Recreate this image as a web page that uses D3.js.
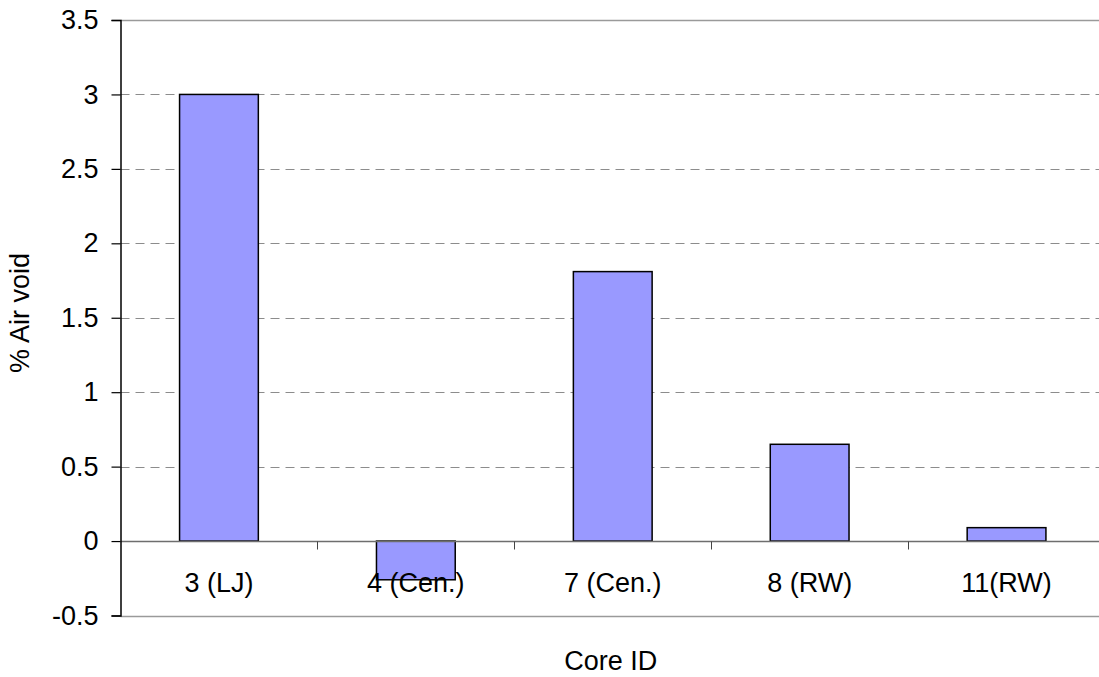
<!DOCTYPE html>
<html><head><meta charset="utf-8">
<script src="https://cdn.jsdelivr.net/npm/d3@7"></script>
<style>body{margin:0;background:#fff}svg{display:block}text{font-family:"Liberation Sans",Arial,sans-serif;fill:#000}</style>
</head><body><svg id="c" width="1099" height="677"></svg>
<script>
const categories = ["3 (LJ)", "4 (Cen.)", "7 (Cen.)", "8 (RW)", "11(RW)"];
const values = [3.0, -0.26, 1.81, 0.65, 0.09];
const yTicks = [-0.5, 0, 0.5, 1, 1.5, 2, 2.5, 3, 3.5];
const xTitle = "Core ID";
const yTitle = "% Air void";

const svg = d3.select("#c");
const L = 120.5, R = 1105, T = 20, B = 615.5;
const x = d3.scaleBand().domain(categories).range([L, R]).paddingInner(0.6).paddingOuter(0.3);
const xb = d3.scaleBand().domain(categories).range([L, R]);
const y = d3.scaleLinear().domain([-0.5, 3.5]).range([B, T]);
const fs = 27;

// gridlines
svg.append("g").selectAll("line").data(yTicks.filter(t => t !== 0 && t !== -0.5 && t !== 3.5)).join("line")
  .attr("x1", L).attr("x2", R).attr("y1", d => Math.round(y(d)) + 0.5).attr("y2", d => Math.round(y(d)) + 0.5)
  .attr("stroke", "#8c8c8c").attr("stroke-width", 1).attr("stroke-dasharray", "9,6");
// top and bottom border
[3.5, -0.5].forEach(t => svg.append("line").attr("x1", L).attr("x2", R)
  .attr("y1", Math.round(y(t)) + 0.5).attr("y2", Math.round(y(t)) + 0.5)
  .attr("stroke", "#9a9a9a").attr("stroke-width", 1.5));

// bars
svg.append("g").selectAll("rect").data(categories).join("rect")
  .attr("x", d => x(d)).attr("width", x.bandwidth())
  .attr("y", (d, i) => y(Math.max(0, values[i])))
  .attr("height", (d, i) => Math.abs(y(values[i]) - y(0)))
  .attr("fill", "#9999ff").attr("stroke", "#000").attr("stroke-width", 1.5);

// zero axis
const y0 = Math.round(y(0)) + 0.5;
svg.append("line").attr("x1", L).attr("x2", R).attr("y1", y0).attr("y2", y0)
  .attr("stroke", "#6e6e6e").attr("stroke-width", 1.5);
svg.append("g").selectAll("line").data(categories.slice(1)).join("line")
  .attr("x1", d => Math.round(xb(d)) + 0.5).attr("x2", d => Math.round(xb(d)) + 0.5)
  .attr("y1", y0).attr("y2", y0 + 8).attr("stroke", "#444").attr("stroke-width", 1);

// y axis
const yAxis = d3.axisLeft(y).tickValues(yTicks).tickSize(9).tickPadding(13).tickFormat(d => String(d));
const gy = svg.append("g").attr("transform", `translate(${L},0)`).call(yAxis);
gy.select(".domain").attr("stroke", "#000").attr("stroke-width", 1.5);
gy.selectAll(".tick line").attr("stroke", "#000").attr("stroke-width", 1.2);
gy.selectAll("text").attr("font-size", fs).attr("font-family", "Liberation Sans, Arial, sans-serif").attr("fill", "#000");

// category labels
svg.append("g").selectAll("text").data(categories).join("text")
  .attr("x", d => xb(d) + xb.bandwidth() / 2).attr("y", 592)
  .attr("text-anchor", "middle").attr("font-size", fs).text(d => d);

// titles
svg.append("text").attr("x", (L + R) / 2 - 2).attr("y", 670).attr("text-anchor", "middle")
  .attr("font-size", fs).text(xTitle);
svg.append("text").attr("transform", `translate(29,313) rotate(-90)`)
  .attr("text-anchor", "middle").attr("font-size", fs).text(yTitle);
</script></body></html>
